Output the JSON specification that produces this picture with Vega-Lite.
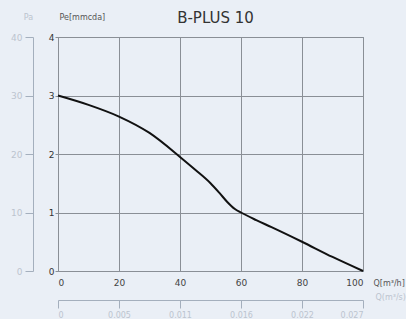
{
  "$schema": "https://vega.github.io/schema/vega-lite/v6.json",
  "autosize": {"type": "none"},
  "width": 305,
  "height": 234,
  "padding": {"left": 58, "top": 37, "right": 43, "bottom": 48},
  "background": "#eaeff6",
  "title": {"text": "B-PLUS 10", "fontSize": 15, "fontWeight": "normal", "color": "#333333", "font": "DejaVu Sans", "anchor": "middle", "offset": -13, "dx": 5},
  "config": {
    "view": {"stroke": "#6a8fa8", "strokeWidth": 1},
    "font": "DejaVu Sans"
  },
  "data": {"values": [
    {"q": 0, "p": 3.0},
    {"q": 10, "p": 2.84},
    {"q": 20, "p": 2.64},
    {"q": 30, "p": 2.36},
    {"q": 40, "p": 1.95},
    {"q": 45, "p": 1.73},
    {"q": 50, "p": 1.5},
    {"q": 53, "p": 1.33},
    {"q": 55.5, "p": 1.18},
    {"q": 58, "p": 1.06},
    {"q": 60, "p": 1.0},
    {"q": 65, "p": 0.87},
    {"q": 70, "p": 0.75},
    {"q": 80, "p": 0.5},
    {"q": 90, "p": 0.24},
    {"q": 100, "p": 0.0}
  ]},
  "resolve": {"scale": {"x": "independent", "y": "independent"}},
  "layer": [
    {
      "mark": {"type": "line", "opacity": 0},
      "encoding": {
        "x": {"field": "q", "type": "quantitative", "scale": {"domain": [0, 100], "nice": false}, "axis": null},
        "y": {"field": "p", "type": "quantitative", "scale": {"domain": [0, 4], "nice": false},
          "axis": {"orient": "left", "offset": 25, "values": [0, 1, 2, 3, 4], "labelExpr": "datum.value * 10", "grid": false,
            "domainColor": "#a4afbd", "tickColor": "#a4afbd", "tickSize": 8, "labelColor": "#bcc4cf", "labelFontSize": 9, "labelPadding": 3,
            "title": "Pa", "titleAngle": 0, "titleX": -5, "titleY": -20, "titleAlign": "center", "titleBaseline": "middle", "titleColor": "#bcc4cf", "titleFontSize": 8, "titleFontWeight": "normal"}}
      }
    },
    {
      "mark": {"type": "line", "opacity": 0},
      "encoding": {
        "x": {"field": "q", "type": "quantitative", "scale": {"domain": [0, 100], "nice": false},
          "axis": {"orient": "bottom", "offset": 29, "values": [0, 20, 40, 60, 80, 100], "labelExpr": "datum.value == 0 ? '0' : datum.value == 20 ? '0.005' : datum.value == 40 ? '0.011' : datum.value == 60 ? '0.016' : datum.value == 80 ? '0.022' : '0.027'", "grid": false,
            "domainColor": "#a4afbd", "tickColor": "#a4afbd", "tickSize": 8, "labelColor": "#bcc4cf", "labelFontSize": 8, "labelPadding": 3,
            "title": "Q(m³/s)", "titleX": 317, "titleY": -3, "titleAlign": "left", "titleBaseline": "middle", "titleColor": "#bcc4cf", "titleFontSize": 8, "titleFontWeight": "normal"}},
        "y": {"field": "p", "type": "quantitative", "scale": {"domain": [0, 4], "nice": false}, "axis": null}
      }
    },
    {
      "mark": {"type": "line", "color": "#111111", "strokeWidth": 2, "interpolate": "monotone"},
      "encoding": {
        "x": {"field": "q", "type": "quantitative", "scale": {"domain": [0, 100], "nice": false},
          "axis": {"orient": "bottom", "values": [0, 20, 40, 60, 80, 100], "grid": true, "gridColor": "#8a8f96", "gridOpacity": 1, "domain": false, "ticks": false,
            "labelColor": "#444444", "labelFontSize": 9, "labelPadding": 7,
            "title": "Q[m³/h]", "titleX": 315, "titleY": 12, "titleAlign": "left", "titleBaseline": "middle", "titleColor": "#555555", "titleFontSize": 8, "titleFontWeight": "normal"}},
        "y": {"field": "p", "type": "quantitative", "scale": {"domain": [0, 4], "nice": false},
          "axis": {"orient": "left", "values": [0, 1, 2, 3, 4], "grid": true, "gridColor": "#8a8f96", "gridOpacity": 1, "domain": false, "ticks": true, "tickSize": 3, "tickColor": "#8a8f96",
            "labelColor": "#333333", "labelFontSize": 9, "labelPadding": 1,
            "title": "Pe[mmcda]", "titleAngle": 0, "titleX": 1, "titleY": -20, "titleAlign": "left", "titleBaseline": "middle", "titleColor": "#555555", "titleFontSize": 8, "titleFontWeight": "normal"}}
      }
    }
  ]
}
